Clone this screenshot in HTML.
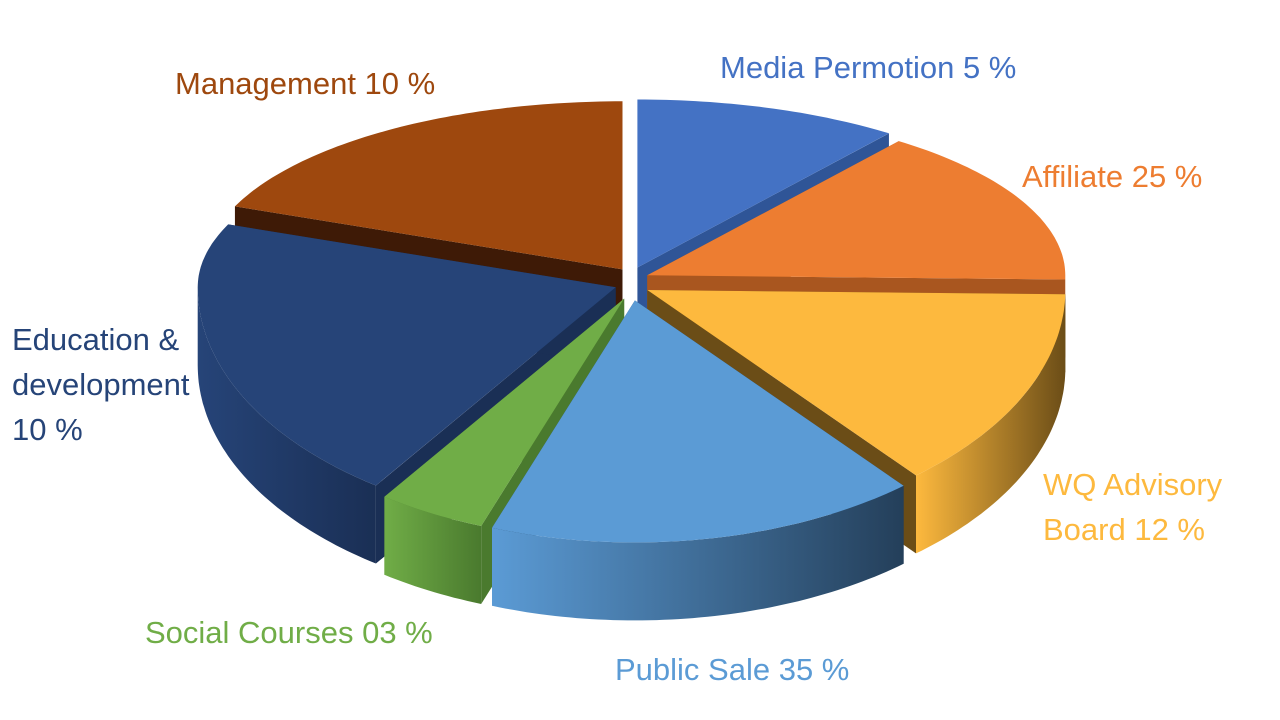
<!DOCTYPE html>
<html><head><meta charset="utf-8">
<style>
html,body{margin:0;padding:0;background:#fff;}
svg{display:block;}
text{font-family:"Liberation Sans",sans-serif;font-size:31px;}
</style></head>
<body>
<svg id="chart" width="1280" height="720" viewBox="0 0 1280 720" xmlns="http://www.w3.org/2000/svg"></svg>
<script>
// Slice names, printed labels and visual share (degrees of the drawn pie)
const categories = ["Media Permotion","Affiliate","WQ Advisory Board","Public Sale","Social Courses","Education & development","Management"];
const printedPercents = ["5 %","25 %","12 %","35 %","03 %","10 %","10 %"];
const shares = [37, 54, 49, 60, 15, 77, 68];
const colors = ["#4472C4","#ED7D31","#FDB93E","#5B9BD5","#70AD47","#264478","#9E480E"];
const sideColors = ["#2f5597","#a9561f","#6b4d17","#243f5a","#4a7a2e","#1a2f55","#3e1a06"];
const labelLines = [["Media Permotion 5 %"],["Affiliate 25 %"],["WQ Advisory","Board 12 %"],["Public Sale 35 %"],["Social Courses 03 %"],["Education &","development","10 %"],["Management 10 %"]];
const labelPos = [[720,78],[1022,187],[1043,495],[615,680],[145,643],[12,350],[175,94]];

const NS="http://www.w3.org/2000/svg";
const svg=document.getElementById('chart');
const cx=632, cy=282, rx=418, ryBack=168, ryFront=242, depth=78, E=17;
const total=shares.reduce((a,b)=>a+b,0);
const rad=d=>d*Math.PI/180;
function pt(t,ox,oy,dz){const c=Math.cos(rad(t));const ry=c>0?ryBack:ryFront;return [cx+ox+rx*Math.sin(rad(t)), cy+oy-ry*c+dz];}
function mk(tag,attrs){const e=document.createElementNS(NS,tag);for(const k in attrs)e.setAttribute(k,attrs[k]);return e;}

let start=0;
const slices=shares.map((s,i)=>{const a0=start,a1=start+s/total*360;start=a1;return {i,a0,a1,mid:(a0+a1)/2};});
slices.sort((a,b)=>(-Math.cos(rad(a.mid)))-(-Math.cos(rad(b.mid))));

const defs=mk('defs',{});svg.appendChild(defs);
slices.forEach(sl=>{
  const i=sl.i;
  const g=mk('g',{});
  
  
  const cm=Math.cos(rad(sl.mid));
  const ox=Math.sin(rad(sl.mid))*E, oy=-cm*E*(cm>0?0.9:1.1);
  const grad=mk('linearGradient',{id:'sg'+i,x1:'0',y1:'0',x2:'1',y2:'0'});
  grad.appendChild(mk('stop',{offset:'0','stop-color':colors[i]}));
  grad.appendChild(mk('stop',{offset:'1','stop-color':sideColors[i]}));
  defs.appendChild(grad);
  const c0=[cx+ox,cy+oy];
  [sl.a0,sl.a1].forEach(a=>{
    const p=pt(a,ox,oy,0),pb=pt(a,ox,oy,depth);
    g.appendChild(mk('path',{d:`M${c0[0]},${c0[1]}L${p[0]},${p[1]}L${pb[0]},${pb[1]}L${c0[0]},${c0[1]+depth}Z`,fill:sideColors[i]}));
  });
  const f0=Math.max(sl.a0,90), f1=Math.min(sl.a1,270);
  if(f1>f0){
    let d='';
    for(let t=f0;t<=f1+0.001;t+=1){const p=pt(Math.min(t,f1),ox,oy,0);d+=(d?'L':'M')+p[0].toFixed(1)+','+p[1].toFixed(1);}
    for(let t=f1;t>=f0-0.001;t-=1){const p=pt(Math.max(t,f0),ox,oy,depth);d+='L'+p[0].toFixed(1)+','+p[1].toFixed(1);}
    g.appendChild(mk('path',{d:d+'Z',fill:'url(#sg'+i+')'}));
  }
  let d=`M${c0[0]},${c0[1]}`;
  for(let t=sl.a0;t<=sl.a1+0.001;t+=1){const p=pt(Math.min(t,sl.a1),ox,oy,0);d+='L'+p[0].toFixed(1)+','+p[1].toFixed(1);}
  g.appendChild(mk('path',{d:d+'Z',fill:colors[i]}));
  svg.appendChild(g);
});

categories.forEach((c,i)=>{
  const t=mk('text',{x:labelPos[i][0],y:labelPos[i][1],fill:colors[i]});
  
  
  labelLines[i].forEach((ln,k)=>{const s=mk('tspan',{x:labelPos[i][0],dy:k?45:0});s.textContent=ln;t.appendChild(s);});
  svg.appendChild(t);
});
</script>
</body></html>
